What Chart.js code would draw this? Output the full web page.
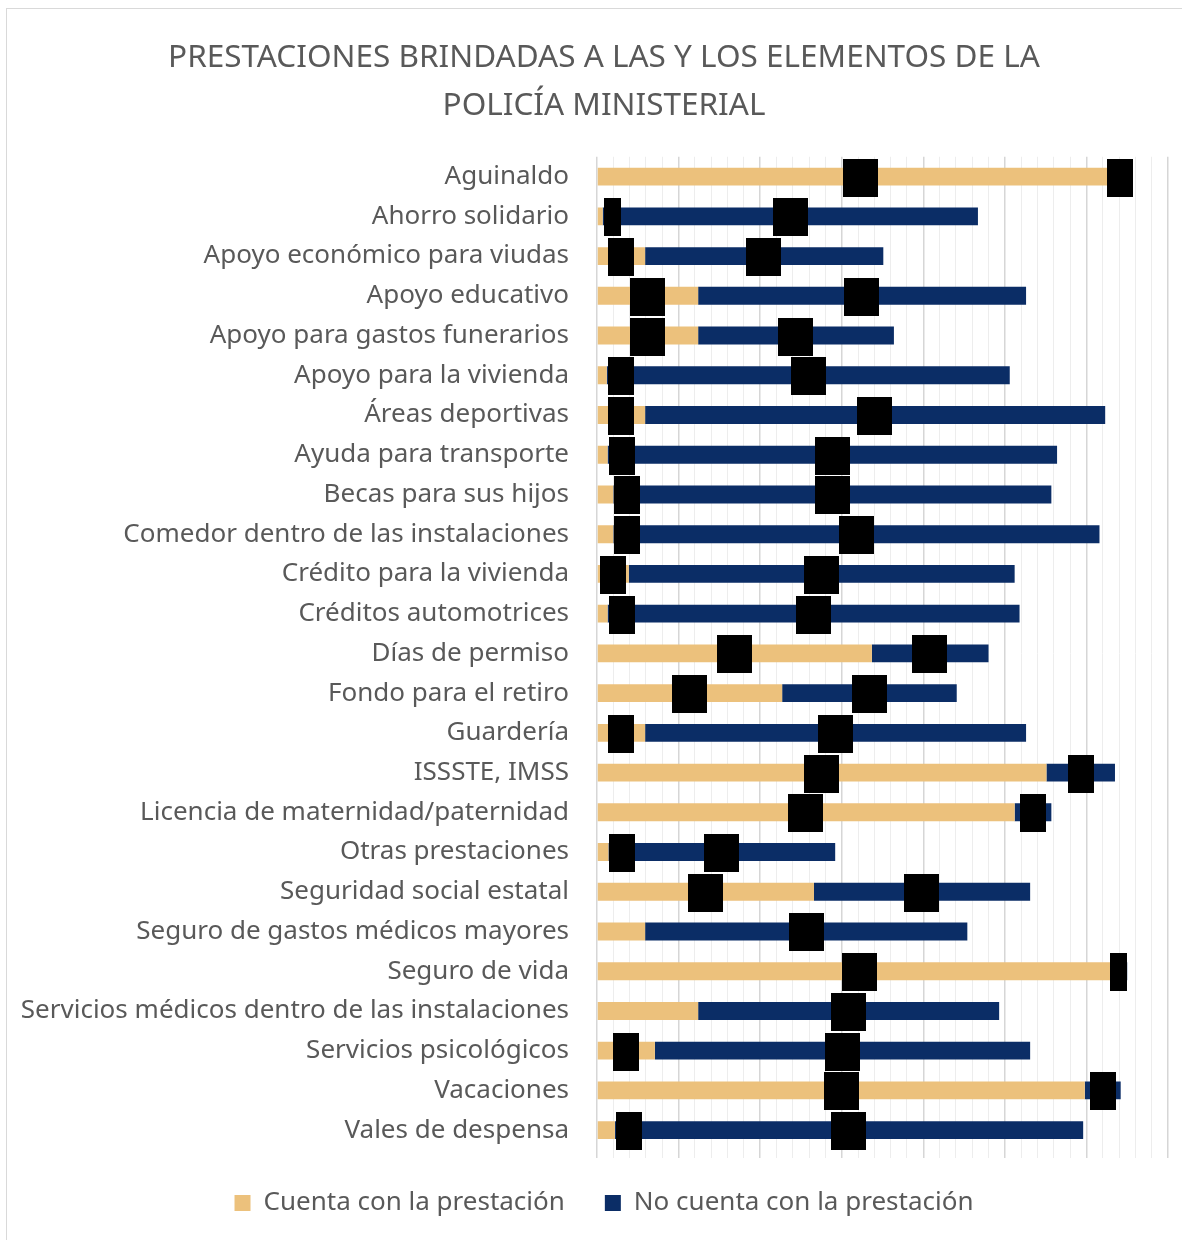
<!DOCTYPE html>
<html lang="es">
<head>
<meta charset="utf-8">
<title>Prestaciones Policía Ministerial</title>
<script src="https://cdn.jsdelivr.net/npm/chart.js@4.4.1/dist/chart.umd.min.js"></script>
<style>
  html, body { margin: 0; padding: 0; background: #fff; overflow: hidden; }
  #marco { position: absolute; left: 6px; top: 8px; width: 1300px; height: 1300px; border: 1px solid #d9d9d9; }
  #grafica { position: absolute; left: 0; top: 0; }
</style>
</head>
<body>
<div id="marco"></div>
<canvas id="grafica" width="1182" height="1240"></canvas>
<script>
const categorias = [
  'Aguinaldo',
  'Ahorro solidario',
  'Apoyo económico para viudas',
  'Apoyo educativo',
  'Apoyo para gastos funerarios',
  'Apoyo para la vivienda',
  'Áreas deportivas',
  'Ayuda para transporte',
  'Becas para sus hijos',
  'Comedor dentro de las instalaciones',
  'Crédito para la vivienda',
  'Créditos automotrices',
  'Días de permiso',
  'Fondo para el retiro',
  'Guardería',
  'ISSSTE, IMSS',
  'Licencia de maternidad/paternidad',
  'Otras prestaciones',
  'Seguridad social estatal',
  'Seguro de gastos médicos mayores',
  'Seguro de vida',
  'Servicios médicos dentro de las instalaciones',
  'Servicios psicológicos',
  'Vacaciones',
  'Vales de despensa'
];
const cuenta = [645, 7, 59, 124, 124, 12, 59, 13, 20, 20, 39, 13, 337, 227, 59, 551, 512, 14, 266, 59, 643, 124, 71, 598, 22];
const noCuenta = [12, 460, 292, 402, 240, 494, 564, 551, 537, 596, 473, 505, 143, 214, 467, 84, 45, 278, 265, 395, 7, 369, 460, 44, 574];
// etiquetas que no aparecen en el original: [serie, fila]
const sinEtiqueta = [[0, 19], [0, 21]];

const FUENTE = "'Noto Sans', sans-serif";
const GRIS = '#595959';

// cajas negras sobre las etiquetas de datos (tapadas en el original)
const cajasEtiquetas = {
  id: 'cajasEtiquetas',
  afterDatasetsDraw(chart) {
    const ctx = chart.ctx;
    ctx.save();
    ctx.font = 'bold 16px ' + FUENTE;
    ctx.fillStyle = '#000';
    chart.data.datasets.forEach((ds, i) => {
      const meta = chart.getDatasetMeta(i);
      meta.data.forEach((bar, j) => {
        if (sinEtiqueta.some(p => p[0] === i && p[1] === j)) return;
        const v = ds.data[j];
        const w = ctx.measureText(String(v)).width + 8;
        const h = 38;
        const largo = Math.abs(bar.x - bar.base);
        let izq = (bar.x + bar.base) / 2 - w / 2;
        if (largo < w) {
          izq = i === 0 ? bar.x + 1 : bar.x - w;
        }
        ctx.fillRect(Math.round(izq), Math.round(bar.y - h / 2 + 1), Math.round(w), h);
      });
    });
    ctx.restore();
  }
};

new Chart(document.getElementById('grafica'), {
  type: 'bar',
  data: {
    labels: categorias,
    datasets: [
      {
        label: 'Cuenta con la prestación',
        data: cuenta,
        backgroundColor: '#ECC17C',
        barPercentage: 0.9,
        categoryPercentage: 0.5
      },
      {
        label: 'No cuenta con la prestación',
        data: noCuenta,
        backgroundColor: '#0B2D66',
        barPercentage: 0.9,
        categoryPercentage: 0.5
      }
    ]
  },
  options: {
    indexAxis: 'y',
    responsive: false,
    animation: false,
    layout: { padding: { left: 16, right: -10, top: 0, bottom: 14 } },
    scales: {
      x: {
        stacked: true,
        min: 0,
        max: 700,
        ticks: { display: false, stepSize: 20 },
        border: { display: false },
        grid: {
          drawTicks: true,
          tickLength: 8,
          color: (c) => (c.tick && c.tick.value % 100 === 0) ? '#d6d6d6' : '#ededed',
          lineWidth: (c) => (c.tick && c.tick.value % 100 === 0) ? 1.5 : 1
        },
        afterFit(scale) { scale.height = 0; }
      },
      y: {
        stacked: true,
        border: { display: false },
        grid: { display: false, drawTicks: false },
        ticks: {
          padding: 28,
          color: GRIS,
          font: { family: FUENTE, size: 26 }
        },
        afterFit(scale) { scale.width = 581; }
      },
      // margen derecho vacío
      yDer: {
        type: 'category',
        position: 'right',
        border: { display: false },
        grid: { display: false, drawTicks: false },
        ticks: { display: false },
        afterFit(scale) { scale.width = 24; }
      }
    },
    plugins: {
      title: {
        display: true,
        text: ['PRESTACIONES BRINDADAS A LAS Y LOS ELEMENTOS DE LA', 'POLICÍA MINISTERIAL'],
        color: GRIS,
        font: { family: FUENTE, size: 31.5, weight: 'normal', lineHeight: 1.52 },
        padding: { top: 34, bottom: 27 }
      },
      legend: {
        position: 'bottom',
        labels: {
          color: GRIS,
          boxWidth: 16,
          boxHeight: 16,
          padding: 40,
          font: { family: FUENTE, size: 26 }
        }
      },
      tooltip: { enabled: false }
    }
  },
  plugins: [cajasEtiquetas]
});
</script>
</body>
</html>
